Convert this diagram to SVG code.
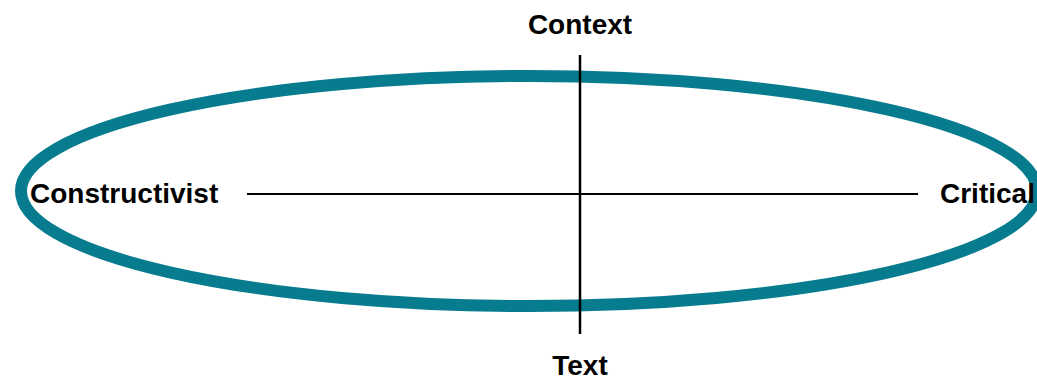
<svg xmlns="http://www.w3.org/2000/svg" width="1037" height="380" viewBox="0 0 1037 380">
<style>
.lbl{font-family:"Liberation Sans",Arial,sans-serif;font-weight:bold;font-size:28px;fill:#000}
.axis{stroke:#000;fill:none}
</style>
<rect width="1037" height="380" fill="#fff"/>
<g id="ellipse">
<ellipse cx="529" cy="191" rx="508" ry="115" fill="none" stroke="#077c8e" stroke-width="12"/>
</g>
<g id="connectors">
<line class="axis" x1="247" y1="194" x2="918" y2="194" stroke-width="2"/>
<line class="axis" x1="580" y1="55" x2="580" y2="334" stroke-width="2.5"/>
</g>
<g id="context"><text class="lbl" x="580" y="34" text-anchor="middle">Context</text></g>
<g id="text"><text class="lbl" x="580" y="375" text-anchor="middle">Text</text></g>
<g id="constructivist"><text class="lbl" x="30" y="203">Constructivist</text></g>
<g id="critical"><text class="lbl" x="940" y="203">Critical</text></g>
</svg>
